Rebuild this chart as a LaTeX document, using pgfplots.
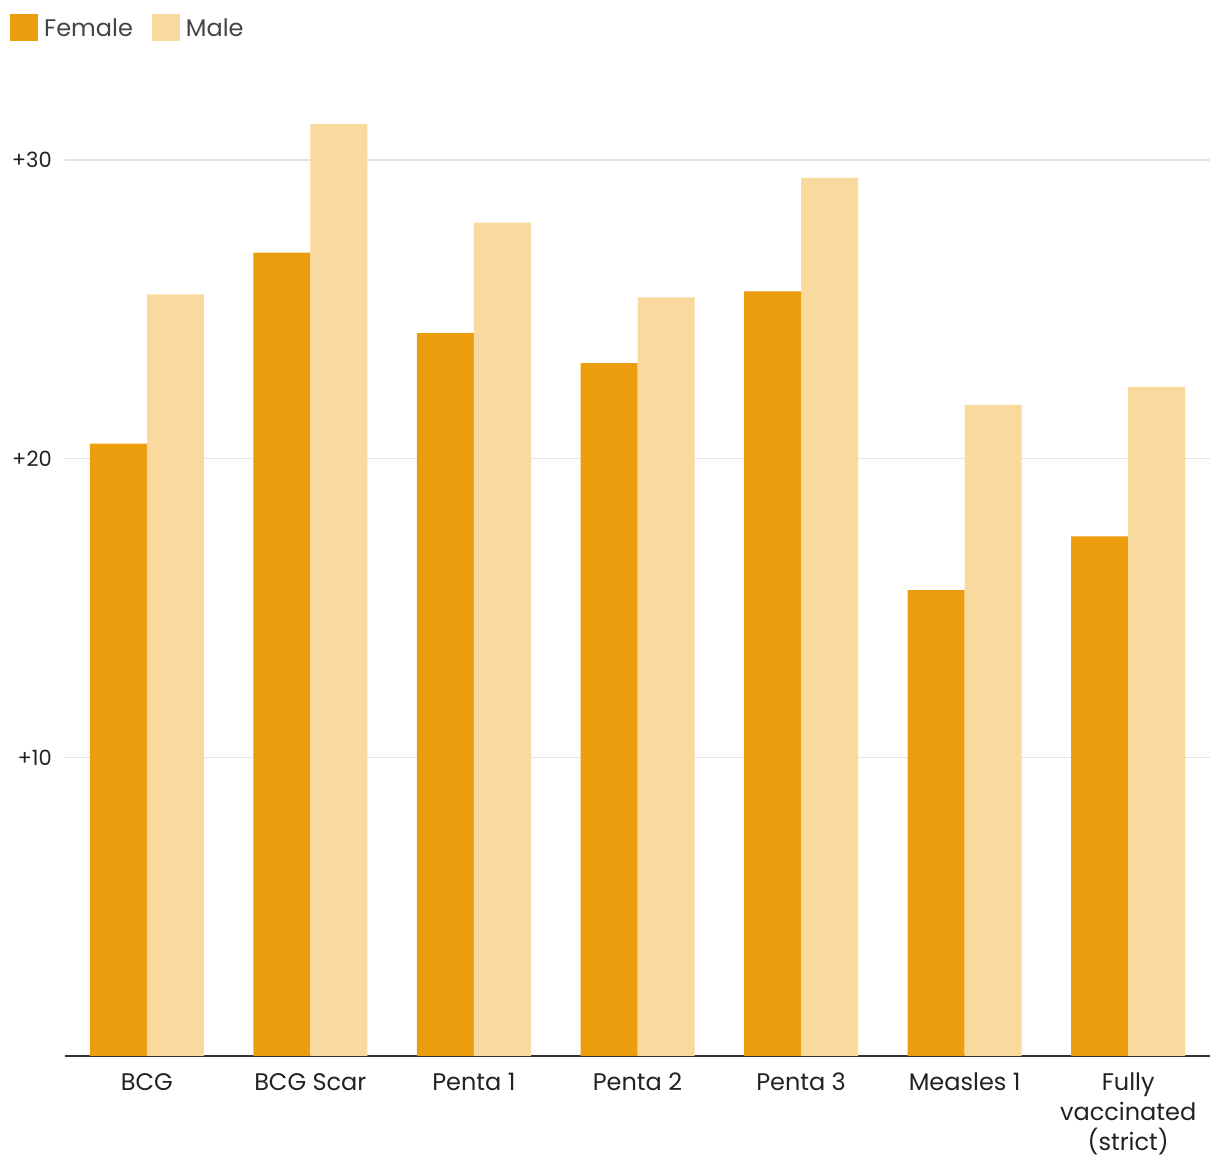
\documentclass[border=0pt]{standalone}
\usepackage{pgfplots}
\pgfplotsset{compat=1.18}
\usepackage{fontspec}
\setmainfont{Poppins}
\definecolor{female}{HTML}{EC9D0E}
\definecolor{male}{HTML}{FAD99F}
\definecolor{gridc}{HTML}{E4E4E4}
\definecolor{axisc}{HTML}{333333}
\definecolor{legtext}{HTML}{444444}
\definecolor{ticktext}{HTML}{222222}

\pgfplotstableread{
x female male
0 20.5 25.5
1 26.9 31.2
2 24.2 27.9
3 23.2 25.4
4 25.6 29.4
5 15.6 21.8
6 17.4 22.4
}\vacc

\begin{document}
\begin{tikzpicture}
\path[use as bounding box] (0,0) rectangle (1220bp,1174bp);
\begin{axis}[
    at={(65bp,118bp)}, anchor=south west,
    scale only axis,
    width=1145bp, height=955.8bp,
    xmin=-0.5, xmax=6.5,
    ymin=0, ymax=32,
    ybar=0pt, bar width=57bp,
    axis x line*=bottom, axis y line*=left,
    y axis line style={draw=none},
    x axis line style={draw=axisc, line width=1.4bp},
    major tick length=0pt,
    xtick=data,
    xticklabels={BCG, BCG Scar, Penta 1, Penta 2, Penta 3, Measles 1, {Fully\\vaccinated\\(strict)}},
    xticklabel style={align=center, inner sep=0pt, yshift=-17bp, text=ticktext,
        font=\fontsize{24bp}{30bp}\selectfont},
    ytick={10,20,30},
    yticklabels={+10,+20,+30},
    yticklabel style={anchor=east, inner sep=0pt, xshift=-13bp, text=ticktext,
        font=\fontsize{21bp}{25bp}\selectfont},
    ymajorgrids,
    major grid style={draw=gridc, line width=1.3bp},
    legend columns=2,
    legend style={at={(axis description cs:0,1)}, anchor=north west,
        xshift=-55bp, yshift=86bp, draw=none, fill=none, inner sep=0pt,
        font=\fontsize{24bp}{30bp}\selectfont, text=legtext,
        nodes={inner sep=0pt, anchor=west},
        /tikz/every even column/.append style={column sep=19bp}},
    legend image code/.code={\fill[#1] (0bp,-13.5bp) rectangle (28bp,13.5bp); \path (34bp,0);},
]
\addplot[fill=female, draw=none] table[x=x, y=female] {\vacc};
\addlegendentry{Female}
\addplot[fill=male, draw=none] table[x=x, y=male] {\vacc};
\addlegendentry{Male}
\end{axis}
\end{tikzpicture}
\end{document}
